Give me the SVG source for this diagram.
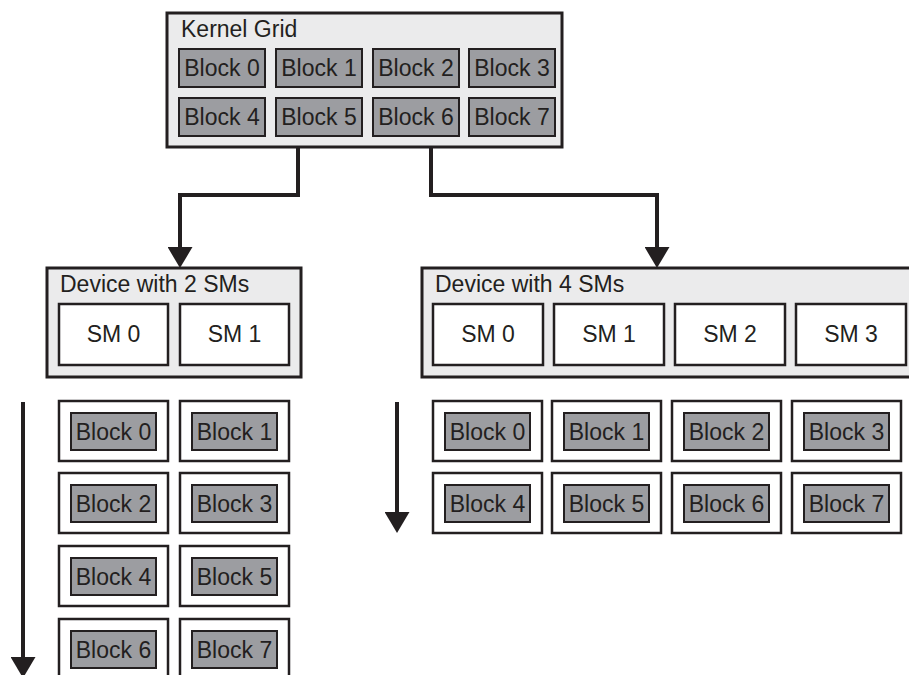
<svg xmlns="http://www.w3.org/2000/svg" width="909" height="675" viewBox="0 0 909 675">
  <style>
    text { font-family: "Liberation Sans", Arial, sans-serif; font-size: 23px; fill: #231f20; }
    .mid { text-anchor: middle; }
    .panel { fill: #ebebec; stroke: #231f20; stroke-width: 3; }
    .blk { fill: #9c9da1; stroke: #231f20; stroke-width: 2; }
    .sm { fill: #ffffff; stroke: #231f20; stroke-width: 2.5; }
    .wire { fill: none; stroke: #231f20; stroke-width: 4; }
  </style>
  <defs>
    <marker id="head" viewBox="0 0 21 25" refX="1" refY="12.5" markerWidth="21" markerHeight="25" markerUnits="userSpaceOnUse" orient="auto">
      <path d="M0,0 L21,12.5 L0,25 Z" fill="#231f20"/>
    </marker>
  </defs>

  <!-- Kernel grid with eight blocks -->
  <g id="kernel-grid">
    <rect class="panel" x="167" y="13" width="395" height="134"/>
    <text x="181" y="37">Kernel Grid</text>
    <rect class="blk" x="179" y="49" width="86" height="38"/><text class="mid" x="222" y="76">Block 0</text>
    <rect class="blk" x="276" y="49" width="86" height="38"/><text class="mid" x="319" y="76">Block 1</text>
    <rect class="blk" x="373" y="49" width="86" height="38"/><text class="mid" x="416" y="76">Block 2</text>
    <rect class="blk" x="469" y="49" width="86" height="38"/><text class="mid" x="512" y="76">Block 3</text>
    <rect class="blk" x="179" y="98" width="86" height="38"/><text class="mid" x="222" y="125">Block 4</text>
    <rect class="blk" x="276" y="98" width="86" height="38"/><text class="mid" x="319" y="125">Block 5</text>
    <rect class="blk" x="373" y="98" width="86" height="38"/><text class="mid" x="416" y="125">Block 6</text>
    <rect class="blk" x="469" y="98" width="86" height="38"/><text class="mid" x="512" y="125">Block 7</text>
  </g>

  <!-- Device with two SMs -->
  <g id="device-2sm">
    <rect class="panel" x="47" y="268" width="254" height="109"/>
    <text x="60" y="292">Device with 2 SMs</text>
    <rect class="sm" x="59" y="304" width="109" height="61"/><text class="mid" x="113.5" y="342">SM 0</text>
    <rect class="sm" x="180" y="304" width="109" height="61"/><text class="mid" x="234.5" y="342">SM 1</text>
  </g>

  <!-- Device with four SMs -->
  <g id="device-4sm">
    <rect class="panel" x="422" y="268" width="500" height="109"/>
    <text x="435" y="292">Device with 4 SMs</text>
    <rect class="sm" x="433" y="304" width="110" height="61"/><text class="mid" x="488" y="342">SM 0</text>
    <rect class="sm" x="554" y="304" width="110" height="61"/><text class="mid" x="609" y="342">SM 1</text>
    <rect class="sm" x="675" y="304" width="110" height="61"/><text class="mid" x="730" y="342">SM 2</text>
    <rect class="sm" x="796" y="304" width="110" height="61"/><text class="mid" x="851" y="342">SM 3</text>
  </g>

  <!-- Block schedule on the two-SM device -->
  <g id="schedule-2sm">
    <rect class="sm" x="59" y="401" width="109" height="60"/><rect class="blk" x="71" y="413" width="85" height="37"/><text class="mid" x="113.5" y="440">Block 0</text>
    <rect class="sm" x="180" y="401" width="109" height="60"/><rect class="blk" x="192" y="413" width="85" height="37"/><text class="mid" x="234.5" y="440">Block 1</text>
    <rect class="sm" x="59" y="473" width="109" height="60"/><rect class="blk" x="71" y="485" width="85" height="37"/><text class="mid" x="113.5" y="512">Block 2</text>
    <rect class="sm" x="180" y="473" width="109" height="60"/><rect class="blk" x="192" y="485" width="85" height="37"/><text class="mid" x="234.5" y="512">Block 3</text>
    <rect class="sm" x="59" y="546" width="109" height="60"/><rect class="blk" x="71" y="558" width="85" height="37"/><text class="mid" x="113.5" y="585">Block 4</text>
    <rect class="sm" x="180" y="546" width="109" height="60"/><rect class="blk" x="192" y="558" width="85" height="37"/><text class="mid" x="234.5" y="585">Block 5</text>
    <rect class="sm" x="59" y="619" width="109" height="60"/><rect class="blk" x="71" y="631" width="85" height="37"/><text class="mid" x="113.5" y="658">Block 6</text>
    <rect class="sm" x="180" y="619" width="109" height="60"/><rect class="blk" x="192" y="631" width="85" height="37"/><text class="mid" x="234.5" y="658">Block 7</text>
  </g>

  <!-- Block schedule on the four-SM device -->
  <g id="schedule-4sm">
    <rect class="sm" x="433" y="401" width="109" height="60"/><rect class="blk" x="445" y="413" width="85" height="37"/><text class="mid" x="487.5" y="440">Block 0</text>
    <rect class="sm" x="552" y="401" width="109" height="60"/><rect class="blk" x="564" y="413" width="85" height="37"/><text class="mid" x="606.5" y="440">Block 1</text>
    <rect class="sm" x="672" y="401" width="109" height="60"/><rect class="blk" x="684" y="413" width="85" height="37"/><text class="mid" x="726.5" y="440">Block 2</text>
    <rect class="sm" x="792" y="401" width="109" height="60"/><rect class="blk" x="804" y="413" width="85" height="37"/><text class="mid" x="846.5" y="440">Block 3</text>
    <rect class="sm" x="433" y="473" width="109" height="60"/><rect class="blk" x="445" y="485" width="85" height="37"/><text class="mid" x="487.5" y="512">Block 4</text>
    <rect class="sm" x="552" y="473" width="109" height="60"/><rect class="blk" x="564" y="485" width="85" height="37"/><text class="mid" x="606.5" y="512">Block 5</text>
    <rect class="sm" x="672" y="473" width="109" height="60"/><rect class="blk" x="684" y="485" width="85" height="37"/><text class="mid" x="726.5" y="512">Block 6</text>
    <rect class="sm" x="792" y="473" width="109" height="60"/><rect class="blk" x="804" y="485" width="85" height="37"/><text class="mid" x="846.5" y="512">Block 7</text>
  </g>

  <!-- Connectors: grid to devices, and time arrows -->
  <g id="connectors">
    <path class="wire" d="M298,147 V195 H180 V248" marker-end="url(#head)"/>
    <path class="wire" d="M431,147 V195 H657 V248" marker-end="url(#head)"/>
    <path class="wire" d="M23,402 V658" marker-end="url(#head)"/>
    <path class="wire" d="M397,402 V513" marker-end="url(#head)"/>
  </g>
</svg>
